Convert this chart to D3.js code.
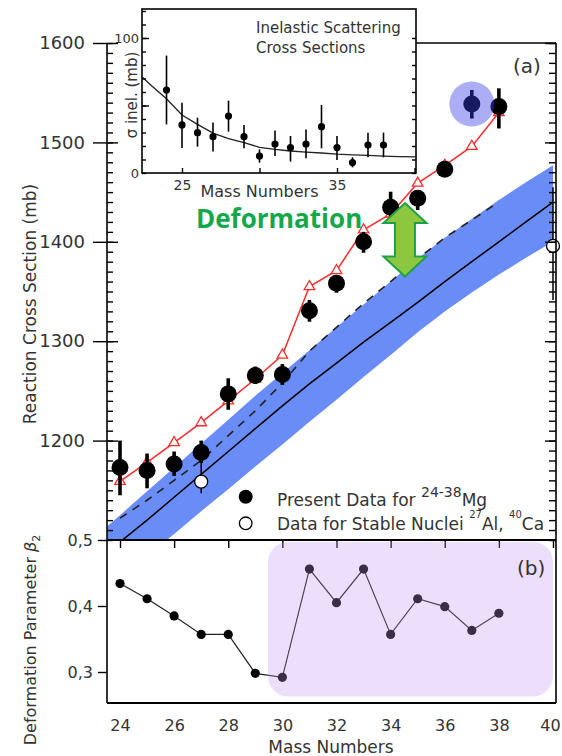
<!DOCTYPE html>
<html><head><meta charset="utf-8">
<script src="https://cdn.jsdelivr.net/npm/d3@7"></script>
<style>body{margin:0;background:#fff} svg{display:block} text{font-family:"DejaVu Sans",sans-serif;fill:#333}</style>
</head><body><svg id="c" width="562" height="756"></svg>
<script>
// ---------- data ----------
const masses = [24,25,26,27,28,29,30,31,32,33,34,35,36,37,38];
const sigmaR   = [1173,1170,1176.5,1188,1247,1265.5,1266.5,1330.7,1358.3,1400,1434.7,1443.8,1473,1538.6,1536];
const sigmaRLo = [1145,1152,1164.5,1177.5,1231,1257,1256,1319.6,1348.8,1389,1425,1432,1467,1524,1514];
const sigmaRHi = [1200,1187,1189,1200,1262.7,1274.5,1277,1341.5,1366.6,1410,1450.4,1450.4,1479,1552.7,1554.4];
const calcDeformed = [1159,1178,1198,1218,1240,1262,1286,1355,1371,1412,1428,1459,1477,1496,1530];
const calcDashed   = [1122,1140,1160,1180,1205,1230,1258,1290,1314,1338,1360,1383,1404,1422,1440];
const bandMass  = [23.5,24,25,26,27,28,29,30,31,32,33,34,35,36,37,38,39,40];
const calcSolid = [1087,1098,1120,1143,1166,1189,1212,1235,1257,1278,1299,1319,1339,1360,1380,1400,1420,1440];
const bandHi    = [1113,1125,1149,1173,1197,1221,1245,1268,1291,1314,1337,1360,1383,1404,1423,1442,1460,1477];
const bandLo    = [1051,1062,1084,1106,1129,1151,1174,1196,1219,1241,1264,1286,1309,1330,1349,1367,1384,1400];
const stableMass = [27,40];
const stableVal  = [1158.7,1395.8];
const stableLo   = [1147,1341.5];
const stableHi   = [1177.5,1455];
const beta2 = [0.434,0.411,0.385,0.357,0.357,0.298,0.292,0.456,0.405,0.456,0.357,0.411,0.399,0.363,0.389];
const inel   = [61.5,35.6,29.9,26.9,42.2,26.9,12.6,21.5,18.8,21.5,34.3,18.8,7.7,20.7,20.7];
const inelLo = [36,18.5,19.5,16,30.6,18.3,7.7,12.6,8.4,10.9,18.3,9.6,4.2,11.6,11.6];
const inelHi = [87,52,41,37.5,53.6,35.5,17.5,31.4,27.4,32.3,50.4,27.4,11.6,29.9,29.9];
const curveMass = [22.4,23,24,25,26,27,28,29,30,31,32,33,34,35,36,37,38,39,40.15];
const curveVal  = [71.5,65,55,43,36,29.5,25.5,22.5,19,17.5,16.3,15.5,14.8,14,13.5,13,12.5,12.2,12];
const mainTicks = [1200,1300,1400,1500,1600];
const massTicks = [24,26,28,30,32,34,36,38,40];
const betaTicks = [0.3,0.4,0.5];
const insetXTicks = [25,30,35,40];
const insetXLabels = [25,35];
const insetYLabels = [0,100];

// ---------- layout ----------
const svg = d3.select('#c');
const L=107, R=556, T=43, B=540, B2=703;
const IL=142, IR=416, IT=9, IB=173;
const x  = d3.scaleLinear().domain([24,40]).range([120,553]);
const y  = d3.scaleLinear().domain([1100,1600]).range([540,43]);
const yb = d3.scaleLinear().domain([0.3,0.5]).range([672,540]);
const xi = d3.scaleLinear().domain([25,35]).range([182,337]);
const yi = d3.scaleLinear().domain([0,100]).range([173,38]);

svg.append('defs').append('clipPath').attr('id','clipA')
  .append('rect').attr('x',L).attr('y',T).attr('width',R-L).attr('height',B-T);

const gA = svg.append('g').attr('clip-path','url(#clipA)');
const band = bandMass.map((m,i)=>({m, lo:bandLo[i], hi:bandHi[i], s:calcSolid[i]}));
gA.append('path').datum(band)
  .attr('d', d3.area().x(d=>x(d.m)).y0(d=>y(d.lo)).y1(d=>y(d.hi)))
  .attr('fill','#6a8cf6');
gA.append('path').datum(band)
  .attr('d', d3.line().x(d=>x(d.m)).y(d=>y(d.s)))
  .attr('fill','none').attr('stroke','#000').attr('stroke-width',1.5);
const pts = masses.map((m,i)=>({m, v:sigmaR[i], lo:sigmaRLo[i], hi:sigmaRHi[i], r:calcDeformed[i], dsh:calcDashed[i], b:beta2[i],
  iv:inel[i], ilo:inelLo[i], ihi:inelHi[i]}));
gA.append('path').datum(pts)
  .attr('d', d3.line().x(d=>x(d.m)).y(d=>y(d.dsh)))
  .attr('fill','none').attr('stroke','#222').attr('stroke-width',1.6).attr('stroke-dasharray','8,7');
gA.append('path').datum(pts)
  .attr('d', d3.line().x(d=>x(d.m)).y(d=>y(d.r)))
  .attr('fill','none').attr('stroke','#ff2a2a').attr('stroke-width',1.5);
gA.selectAll('.tri').data(pts).join('path')
  .attr('transform',d=>`translate(${x(d.m)},${y(d.r)})`)
  .attr('d', d3.symbol(d3.symbolTriangle, 48))
  .attr('fill','#fff').attr('stroke','#ff2a2a').attr('stroke-width',1.3);

// present data
svg.selectAll('.eb').data(pts).join('line')
  .attr('x1',d=>x(d.m)).attr('x2',d=>x(d.m)).attr('y1',d=>y(d.lo)).attr('y2',d=>y(d.hi))
  .attr('stroke','#000').attr('stroke-width',3.6);
svg.selectAll('.pt').data(pts).join('circle')
  .attr('cx',d=>x(d.m)).attr('cy',d=>y(d.v)).attr('r',8.5).attr('fill','#000');
// stable nuclei
const st = stableMass.map((m,i)=>({m,v:stableVal[i],lo:stableLo[i],hi:stableHi[i]}));
svg.selectAll('.seb').data(st).join('line')
  .attr('x1',d=>x(d.m)).attr('x2',d=>x(d.m)).attr('y1',d=>y(d.lo)).attr('y2',d=>y(d.hi))
  .attr('stroke','#000').attr('stroke-width',1.5);
svg.selectAll('.spt').data(st).join('circle')
  .attr('cx',d=>x(d.m)).attr('cy',d=>y(d.v)).attr('r',6.5).attr('fill','#fff').attr('stroke','#000').attr('stroke-width',1.3);
// highlight 37Mg
svg.append('circle').attr('cx',x(37)).attr('cy',y(1538.6)).attr('r',22.5)
  .attr('fill','rgb(55,62,232)').attr('opacity',0.42);

// ---------- axes panel a ----------
const axA = svg.append('g').attr('stroke','#000');
axA.append('line').attr('x1',L).attr('x2',L).attr('y1',T).attr('y2',B2).attr('stroke-width',1.6);
axA.append('line').attr('x1',R).attr('x2',R).attr('y1',T).attr('y2',B2).attr('stroke-width',1.6);
axA.append('line').attr('x1',IR).attr('x2',R).attr('y1',T).attr('y2',T).attr('stroke-width',1.6);
axA.append('line').attr('x1',L).attr('x2',R).attr('y1',B).attr('y2',B).attr('stroke-width',2);
axA.append('line').attr('x1',L).attr('x2',R).attr('y1',B2).attr('y2',B2).attr('stroke-width',2);

function styleAxis(g, fs){
  g.select('.domain').remove();
  g.selectAll('.tick line').attr('stroke','#000').attr('stroke-width',1.4);
  g.selectAll('.tick text').attr('font-size',fs).attr('fill','#333');
}
const minor = d3.range(1100,1601,10);
svg.append('g').attr('transform',`translate(${L},0)`)
  .call(d3.axisLeft(y).tickValues(mainTicks).tickSize(14).tickPadding(8).tickFormat(d3.format('d')))
  .call(g=>styleAxis(g,18));
svg.append('g').attr('transform',`translate(${L},0)`)
  .call(d3.axisRight(y).tickValues(mainTicks).tickSize(11).tickFormat(''))
  .call(g=>styleAxis(g,0));
svg.append('g').attr('transform',`translate(${L},0)`)
  .call(d3.axisRight(y).tickValues(minor).tickSize(6).tickFormat(''))
  .call(g=>styleAxis(g,0));
svg.append('g').attr('transform',`translate(${R},0)`)
  .call(d3.axisLeft(y).tickValues(minor).tickSize(7).tickFormat(''))
  .call(g=>styleAxis(g,0));
svg.append('g').attr('transform',`translate(${R},0)`)
  .call(d3.axisLeft(y).tickValues(mainTicks).tickSize(11).tickFormat(''))
  .call(g=>styleAxis(g,0));
svg.append('g').attr('transform',`translate(0,${B})`)
  .call(d3.axisBottom(x).tickValues(massTicks).tickSize(8).tickFormat(''))
  .call(g=>styleAxis(g,0));

// ---------- panel b ----------
svg.append('path').datum(pts)
  .attr('d', d3.line().x(d=>x(d.m)).y(d=>yb(d.b)))
  .attr('fill','none').attr('stroke','#222').attr('stroke-width',1.2);
svg.selectAll('.bp').data(pts).join('circle')
  .attr('cx',d=>x(d.m)).attr('cy',d=>yb(d.b)).attr('r',4.6).attr('fill','#000');
svg.append('rect').attr('x',x(29.47)).attr('y',yb(0.497)).attr('width',x(40)-x(29.47)).attr('height',yb(0.263)-yb(0.497))
  .attr('rx',20).attr('fill','rgb(190,150,245)').attr('opacity',0.3);
svg.append('g').attr('transform',`translate(${L},0)`)
  .call(d3.axisLeft(yb).tickValues(betaTicks).tickSize(9).tickPadding(5).tickFormat(d=>d.toFixed(1).replace('.',',')))
  .call(g=>styleAxis(g,16));
svg.append('g').attr('transform',`translate(0,${B2})`)
  .call(d3.axisBottom(x).tickValues(massTicks).tickSize(0).tickPadding(17))
  .call(g=>styleAxis(g,16))
  .call(g=>g.selectAll('.tick text').filter(d=>d===40).attr('x',-3));

// ---------- inset ----------
svg.append('rect').attr('x',IL).attr('y',IT).attr('width',IR-IL).attr('height',IB-IT)
  .attr('fill','#fff').attr('stroke','#000').attr('stroke-width',1.6);
const gI = svg.append('g');
gI.append('path').datum(curveMass.map((m,i)=>({m,v:curveVal[i]})))
  .attr('d', d3.line().x(d=>xi(d.m)).y(d=>yi(d.v)))
  .attr('fill','none').attr('stroke','#222').attr('stroke-width',1.3);
gI.selectAll('.ie').data(pts).join('line')
  .attr('x1',d=>xi(d.m)).attr('x2',d=>xi(d.m)).attr('y1',d=>yi(d.ilo)).attr('y2',d=>yi(d.ihi))
  .attr('stroke','#000').attr('stroke-width',1.6);
gI.selectAll('.ip').data(pts).join('circle')
  .attr('cx',d=>xi(d.m)).attr('cy',d=>yi(d.iv)).attr('r',3.6).attr('fill','#000');
const iMinor = d3.range(0,121,10);
svg.append('g').attr('transform',`translate(${IL},0)`)
  .call(d3.axisRight(yi).tickValues(iMinor).tickSize(4).tickFormat('')).call(g=>styleAxis(g,0));
svg.append('g').attr('transform',`translate(${IL},0)`)
  .call(d3.axisRight(yi).tickValues([50,100]).tickSize(7).tickFormat('')).call(g=>styleAxis(g,0));
svg.append('g').attr('transform',`translate(${IL},0)`)
  .call(d3.axisLeft(yi).tickValues(insetYLabels).tickSize(0).tickPadding(3)).call(g=>styleAxis(g,13));
svg.append('g').attr('transform',`translate(${IR},0)`)
  .call(d3.axisLeft(yi).tickValues(iMinor.filter(v=>v<=100)).tickSize(4).tickFormat('')).call(g=>styleAxis(g,0));
svg.append('g').attr('transform',`translate(0,${IB})`)
  .call(d3.axisTop(xi).tickValues(insetXTicks).tickSize(5).tickFormat('')).call(g=>styleAxis(g,0));
svg.append('g').attr('transform',`translate(0,${IB})`)
  .call(d3.axisBottom(xi).tickValues(insetXLabels).tickSize(0).tickPadding(7)).call(g=>styleAxis(g,14));
svg.append('text').attr('x',259.5).attr('y',197.3).attr('text-anchor','middle').attr('font-size',16).text('Mass Numbers');
svg.append('text').attr('transform','translate(137,95) rotate(-90)').attr('text-anchor','middle').attr('font-size',15).text('σ inel. (mb)');
svg.append('text').attr('x',256).attr('y',32.5).attr('font-size',15).text('Inelastic Scattering');
svg.append('text').attr('x',256).attr('y',53.3).attr('font-size',15).text('Cross Sections');

// ---------- labels ----------
svg.append('text').attr('transform','translate(36,304) rotate(-90)').attr('text-anchor','middle').attr('font-size',17).text('Reaction Cross Section (mb)');
const dl = svg.append('text').attr('transform','translate(36,640) rotate(-90)').attr('text-anchor','middle').attr('font-size',16);
dl.append('tspan').text('Deformation Parameter ');
dl.append('tspan').attr('font-style','italic').text('β');
dl.append('tspan').attr('font-size',11).attr('dy',4).text('2');
svg.append('text').attr('x',331).attr('y',753).attr('text-anchor','middle').attr('font-size',17).text('Mass Numbers');
svg.append('text').attr('x',513).attr('y',73).attr('font-size',20).text('(a)');
svg.append('text').attr('x',517).attr('y',575).attr('font-size',20).text('(b)');

// legend
svg.append('circle').attr('cx',245.7).attr('cy',496.7).attr('r',7).attr('fill','#000');
svg.append('circle').attr('cx',245.7).attr('cy',523.3).attr('r',6.3).attr('fill','#fff').attr('stroke','#000').attr('stroke-width',1.3);
const l1 = svg.append('text').attr('x',277).attr('y',505.7).attr('font-size',17).attr('fill','#222');
l1.append('tspan').text('Present Data for ');
l1.append('tspan').attr('font-size',14).attr('dy',-8.5).text('24-38');
l1.append('tspan').attr('dy',8.5).text('Mg');
const l2 = svg.append('text').attr('x',277).attr('y',530).attr('font-size',17).attr('fill','#222');
l2.append('tspan').text('Data for Stable Nuclei ');
l2.append('tspan').attr('font-size',10).attr('dy',-12).text('27');
l2.append('tspan').attr('dy',12).text('Al, ');
l2.append('tspan').attr('font-size',10).attr('dy',-12).text('40');
l2.append('tspan').attr('dy',12).text('Ca');

// Deformation annotation
svg.append('text').attr('x',196).attr('y',228).attr('font-size',26).attr('font-weight','bold')
  .style('font-family','"Open Sans",sans-serif').style('fill','#15a84a').text('Deformation');
const ax = x(34.53), at = y(1439), ab = y(1365);
const hw=21.5, sw=10, hh=20;
svg.append('polygon').attr('points',[[ax,at],[ax+hw,at+hh],[ax+sw,at+hh],[ax+sw,ab-hh],[ax+hw,ab-hh],[ax,ab],[ax-hw,ab-hh],[ax-sw,ab-hh],[ax-sw,at+hh],[ax-hw,at+hh]].map(p=>p.join(',')).join(' '))
  .attr('fill','#8dc63f').attr('stroke','#1fa14a').attr('stroke-width',2).attr('stroke-linejoin','miter');
</script></body></html>
